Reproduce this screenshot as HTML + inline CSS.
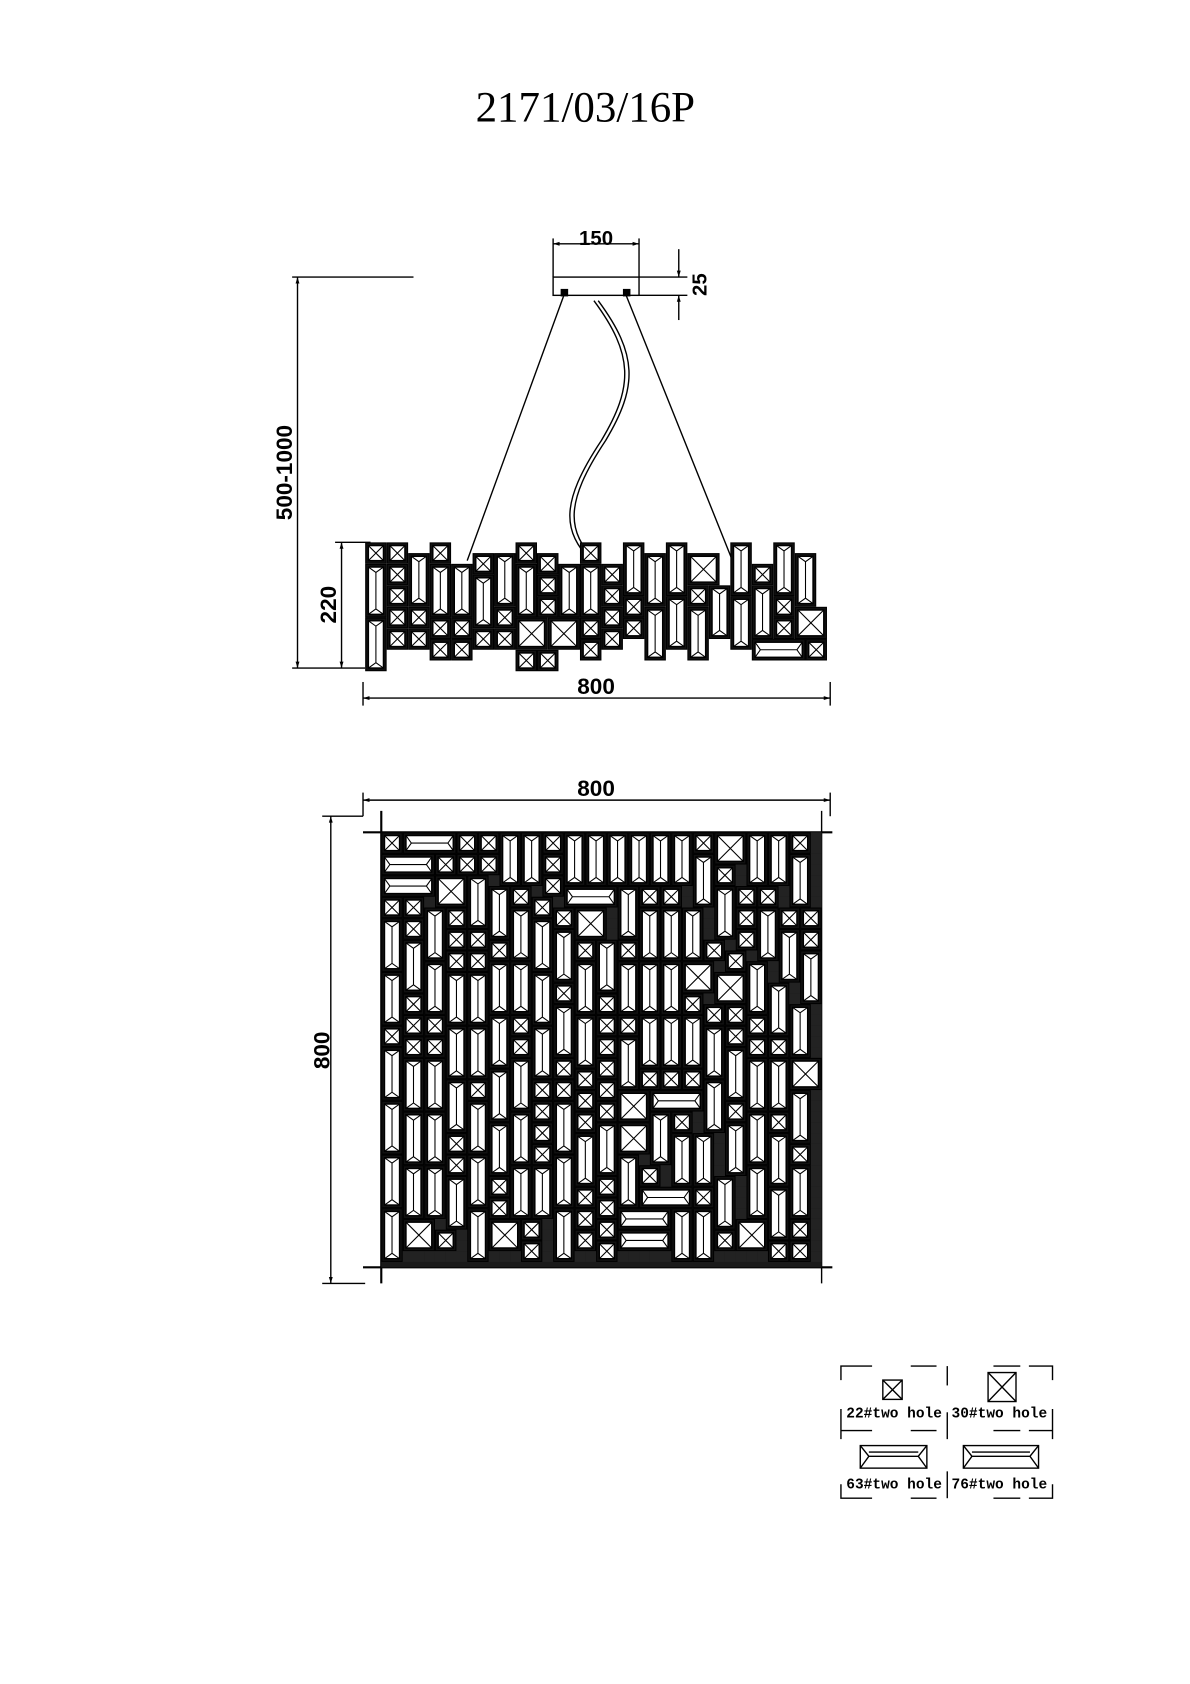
<!DOCTYPE html>
<html><head><meta charset="utf-8"><style>html,body{margin:0;padding:0;background:#fff}svg{display:block}</style></head>
<body>
<svg id="s" width="1190" height="1684" viewBox="0 0 1108 1568" xmlns="http://www.w3.org/2000/svg" font-family="Liberation Sans Narrow, Liberation Sans, sans-serif">
<defs>
<marker id="a" viewBox="0 0 10 10" refX="10" refY="5" markerWidth="14" markerHeight="6" markerUnits="userSpaceOnUse" orient="auto-start-reverse"><path d="M0,2 L10,5 L0,8 z" fill="#000"/></marker>
</defs>
<text x="545" y="113" font-family="Liberation Serif, serif" font-size="40" text-anchor="middle">2171/03/16P</text>
<g stroke="#000" stroke-width="1.3" fill="none">
<line x1="272" y1="258" x2="385" y2="258"/>
<line x1="277" y1="258" x2="277" y2="622" marker-start="url(#a)" marker-end="url(#a)"/>
<line x1="272" y1="622" x2="340" y2="622"/>
<line x1="312" y1="505" x2="345" y2="505"/>
<line x1="318" y1="505" x2="318" y2="622" marker-start="url(#a)" marker-end="url(#a)"/>
<line x1="338" y1="650" x2="773" y2="650" marker-start="url(#a)" marker-end="url(#a)"/>
<line x1="338" y1="635" x2="338" y2="657"/><line x1="773" y1="635" x2="773" y2="657"/>
<rect x="515" y="258" width="80" height="17"/>
<line x1="515" y1="222" x2="515" y2="258"/><line x1="595" y1="222" x2="595" y2="258"/>
<line x1="515" y1="227" x2="595" y2="227" marker-start="url(#a)" marker-end="url(#a)"/>
<line x1="595" y1="258" x2="640" y2="258"/><line x1="595" y1="275" x2="640" y2="275"/>
<line x1="632" y1="232" x2="632" y2="258" marker-end="url(#a)"/>
<line x1="632" y1="298" x2="632" y2="275" marker-end="url(#a)"/>
<line x1="525" y1="275" x2="435" y2="522"/>
<line x1="583" y1="275" x2="682" y2="522"/>
<path d="M553,280 C590,330 590,360 560,410 C520,470 525,495 550,522"/>
<path d="M557,280 C594,330 594,360 564,410 C524,470 529,495 554,522"/>
<line x1="338" y1="745" x2="773" y2="745" marker-start="url(#a)" marker-end="url(#a)"/>
<line x1="338" y1="738" x2="338" y2="760"/><line x1="773" y1="738" x2="773" y2="760"/>
<line x1="300" y1="760" x2="338" y2="760"/><line x1="300" y1="1195" x2="340" y2="1195"/>
<line x1="308" y1="760" x2="308" y2="1195" marker-start="url(#a)" marker-end="url(#a)"/>
<line x1="338" y1="775" x2="775" y2="775" stroke-width="2"/><line x1="338" y1="1180" x2="775" y2="1180" stroke-width="2"/>
<line x1="355" y1="755" x2="355" y2="1195" stroke-width="2"/><line x1="765" y1="755" x2="765" y2="1195"/>
</g>
<rect x="522" y="269" width="7" height="7" fill="#000"/><rect x="580" y="269" width="7" height="7" fill="#000"/>
<g font-weight="bold" font-size="21" text-anchor="middle">
<text x="555" y="228" font-size="19">150</text>
<text x="555" y="646">800</text>
<text x="555" y="741">800</text>
<text transform="translate(658,265) rotate(-90)" font-size="19">25</text>
<text transform="translate(272,440) rotate(-90)">500-1000</text>
<text transform="translate(313,563) rotate(-90)">220</text>
<text transform="translate(307,978) rotate(-90)">800</text>
</g>
<g id="plan"></g>
<g id="elev"></g>
<g stroke="#000" stroke-width="1.3" fill="none">
<path d="M783,1285 V1272 H812 M848,1272 H872 M925,1272 H950 M958,1272 H980 V1285"/>
<line x1="882" y1="1272" x2="882" y2="1290"/><line x1="882" y1="1315" x2="882" y2="1340"/><line x1="882" y1="1370" x2="882" y2="1395"/>
<path d="M783,1312 V1340 M783,1332 H812 M848,1332 H872 M925,1332 H950 M958,1332 H980 M980,1312 V1340"/>
<path d="M783,1382 V1395 H812 M848,1395 H872 M925,1395 H950 M958,1395 H980 V1382"/>
<rect x="822" y="1285" width="18" height="18"/><path d="M822,1285 L840,1303 M840,1285 L822,1303"/>
<rect x="920" y="1278" width="26" height="27"/><path d="M920,1278 L946,1305 M946,1278 L920,1305"/>
<rect x="801" y="1346" width="62" height="21"/><path d="M801,1346 L809,1356 L801,1367 M809,1356 L855,1356 M863,1346 L855,1356 L863,1367 M809,1352 H855"/>
<rect x="897" y="1346" width="70" height="21"/><path d="M897,1346 L905,1356 L897,1367 M905,1356 L959,1356 M967,1346 L959,1356 L967,1367 M905,1352 H959"/>
</g>
<g font-family="Liberation Mono, monospace" font-weight="bold" font-size="13.5">
<text x="788" y="1320">22#two hole</text><text x="886" y="1320">30#two hole</text>
<text x="788" y="1386">63#two hole</text><text x="886" y="1386">76#two hole</text>
</g>
</svg>
<script>
(function(){
var NS="http://www.w3.org/2000/svg";
var seed=7;function r(){seed=(seed*16807)%2147483647;return (seed-1)/2147483646;}
function el(p,n,a){var e=document.createElementNS(NS,n);for(var k in a)e.setAttribute(k,a[k]);p.appendChild(e);return e;}
function tile(g,x,y,w,h){
  el(g,"rect",{x:x+0.5,y:y+0.5,width:w-1,height:h-1,fill:"#111",stroke:"#000"});
  var ix=x+3,iy=y+3,iw=w-6,ih=h-6;
  el(g,"rect",{x:ix,y:iy,width:iw,height:ih,fill:"#fff",stroke:"#000","stroke-width":1.3});
  var d;
  if(Math.abs(w-h)<3){d="M"+ix+","+iy+"L"+(ix+iw)+","+(iy+ih)+"M"+(ix+iw)+","+iy+"L"+ix+","+(iy+ih);}
  else if(h>w){d="M"+ix+","+iy+"L"+(ix+iw/2)+","+(iy+5)+"L"+(ix+iw)+","+iy+"M"+ix+","+(iy+ih)+"L"+(ix+iw/2)+","+(iy+ih-5)+"L"+(ix+iw)+","+(iy+ih)+"M"+(ix+iw/2)+","+(iy+5)+"V"+(iy+ih-5);}
  else {d="M"+ix+","+iy+"L"+(ix+5)+","+(iy+ih/2)+"L"+ix+","+(iy+ih)+"M"+(ix+iw)+","+iy+"L"+(ix+iw-5)+","+(iy+ih/2)+"L"+(ix+iw)+","+(iy+ih)+"M"+(ix+5)+","+(iy+ih/2)+"H"+(ix+iw-5);}
  el(g,"path",{d:d,stroke:"#000","stroke-width":1,fill:"none"});
}
function fill(g,x0,y0,cols,rows,u,skip,gapFill){
  var occ=[];for(var i=0;i<rows;i++){occ.push([]);for(var j=0;j<cols;j++)occ[i].push(skip?skip(i,j):false);}
  var types=[[2,2],[2,2],[3,3],[2,5],[2,5],[5,2]];
  function fits(i,j,w,h){if(i+h>rows||j+w>cols)return false;for(var a=i;a<i+h;a++)for(var b=j;b<j+w;b++)if(occ[a][b])return false;return true;}
  for(var i=0;i<rows;i++)for(var j=0;j<cols;j++){
    if(occ[i][j])continue;
    var t=types[Math.floor(r()*types.length)],ok=false;
    for(var k=0;k<6&&!ok;k++){if(fits(i,j,t[0],t[1]))ok=true;else t=types[Math.floor(r()*types.length)];}
    if(!ok){t=fits(i,j,2,2)?[2,2]:[1,1];}
    for(var a=i;a<i+t[1];a++)for(var b=j;b<j+t[0];b++)occ[a][b]=true;
    if(t[0]==1){if(gapFill)el(g,"rect",{x:x0+j*u,y:y0+i*u,width:u,height:u,fill:gapFill});}
    else tile(g,x0+j*u,y0+i*u,t[0]*u,t[1]*u);
  }
}
var plan=document.getElementById("plan");
el(plan,"rect",{x:355,y:775,width:410,height:405,fill:"#1a1a1a"});
fill(plan,355,775,41,40,10,null,"#222");
var elev=document.getElementById("elev");
var prof=[];for(var j=0;j<44;j++){prof.push([Math.floor(r()*3),Math.floor(r()*3)]);}
fill(elev,340,505,43,12,10,function(i,j){var p=prof[Math.floor(j/2)*2];return i<p[0]||i>=12-p[1];},null);
})();
</script>
</body></html>
